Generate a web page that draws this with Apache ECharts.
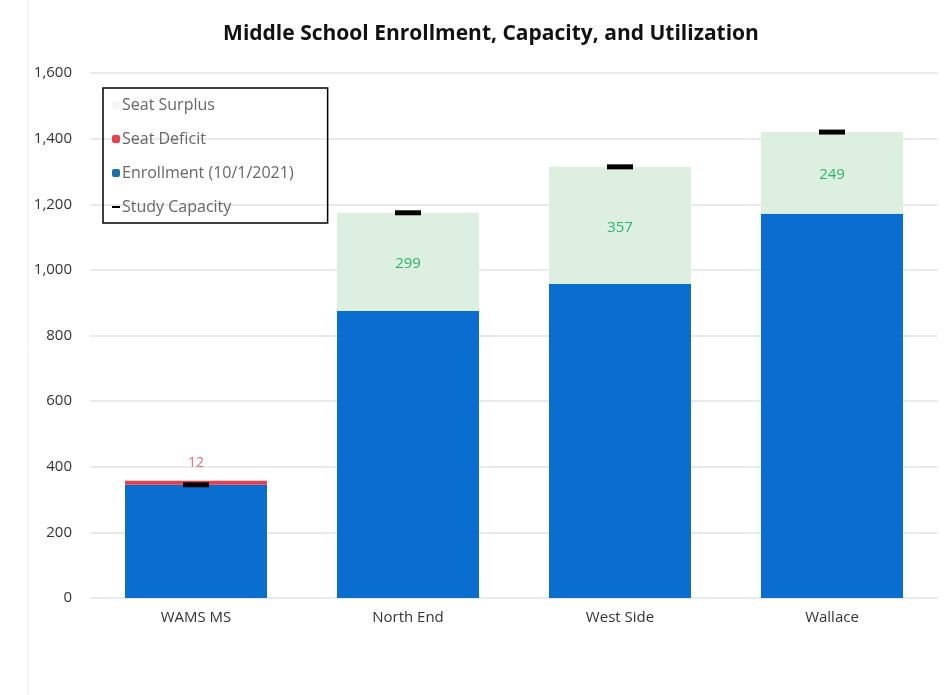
<!DOCTYPE html>
<html><head><meta charset="utf-8">
<script src="https://cdn.jsdelivr.net/npm/echarts@6/dist/echarts.min.js"></script>
<style>html,body{margin:0;padding:0;background:#fff;}#c{width:949px;height:695px;}</style>
</head><body><div id="c"></div>
<script>
const categories = ['WAMS MS', 'North End', 'West Side', 'Wallace'];
const enrollmentBase = [345, 875, 957, 1171];
const seatDeficit = [12, null, null, null];
const seatSurplus = [null, 299, 357, 249];
const studyCapacity = [345, 1174, 1314, 1420];
const yTicks = {min: 0, max: 1600, interval: 200};

const FONT = '"Open Sans", Lato, sans-serif';
const chart = echarts.init(document.getElementById('c'));
chart.setOption({
  backgroundColor: '#fff',
  animation: false,
  textStyle: {fontFamily: FONT},
  title: {
    text: 'Middle School Enrollment, Capacity, and Utilization',
    left: 486, top: 19, textAlign: 'center',
    textStyle: {fontFamily: FONT, fontSize: 21, fontWeight: 'bold', color: '#111'}
  },
  legend: {
    orient: 'vertical', left: 103, top: 88,
    padding: [9, 34, 8, 9],
    borderColor: '#000', borderWidth: 1.5,
    itemWidth: 8, itemHeight: 8, itemGap: 18,
    textStyle: {fontFamily: FONT, fontSize: 16, color: '#666', padding: [0, 0, 0, -3]},
    data: [
      {name: 'Seat Surplus', itemStyle: {color: '#f4f7f4'}},
      {name: 'Seat Deficit', itemStyle: {color: '#e8414e'}},
      {name: 'Enrollment (10/1/2021)', itemStyle: {color: '#1a6fa8'}},
      {name: 'Study Capacity', icon: 'path://M0,0h8v2h-8z', itemStyle: {color: '#000'}}
    ]
  },
  graphic: [{type: 'line', shape: {x1: 28, y1: 0, x2: 28, y2: 695}, style: {stroke: '#eeeeee', lineWidth: 1}}],
  grid: {left: 90, right: 11, top: 73, bottom: 97},
  xAxis: {
    type: 'category', data: categories,
    axisLine: {show: false}, axisTick: {show: false},
    axisLabel: {fontFamily: FONT, fontSize: 15, color: '#333', margin: 12}
  },
  yAxis: {
    type: 'value', min: yTicks.min, max: yTicks.max, interval: yTicks.interval,
    axisLine: {show: false}, axisTick: {show: false},
    axisLabel: {fontFamily: FONT, fontSize: 15, color: '#333', margin: 18,
      formatter: v => v.toLocaleString('en-US')},
    splitLine: {lineStyle: {color: '#e3e3e3', width: 1.5}}
  },
  series: [
    {name: 'Enrollment (10/1/2021)', type: 'bar', stack: 's', data: enrollmentBase,
      barWidth: 142, itemStyle: {color: '#0a6ed1'}},
    {name: 'Seat Deficit', type: 'bar', stack: 's', data: seatDeficit,
      itemStyle: {color: '#e8414e'},
      label: {show: true, position: 'top', color: '#e06a78', fontSize: 14, fontFamily: FONT, distance: 11}},
    {name: 'Seat Surplus', type: 'bar', stack: 's', data: seatSurplus,
      itemStyle: {color: '#dcefe0'},
      label: {show: true, position: 'inside', color: '#2fb36a', fontSize: 15, fontFamily: FONT, offset: [0, 2]}},
    {name: 'Study Capacity', type: 'scatter', data: studyCapacity,
      symbol: 'rect', symbolSize: [26, 5], itemStyle: {color: '#000', opacity: 1}, z: 5}
  ]
});
</script></body></html>
